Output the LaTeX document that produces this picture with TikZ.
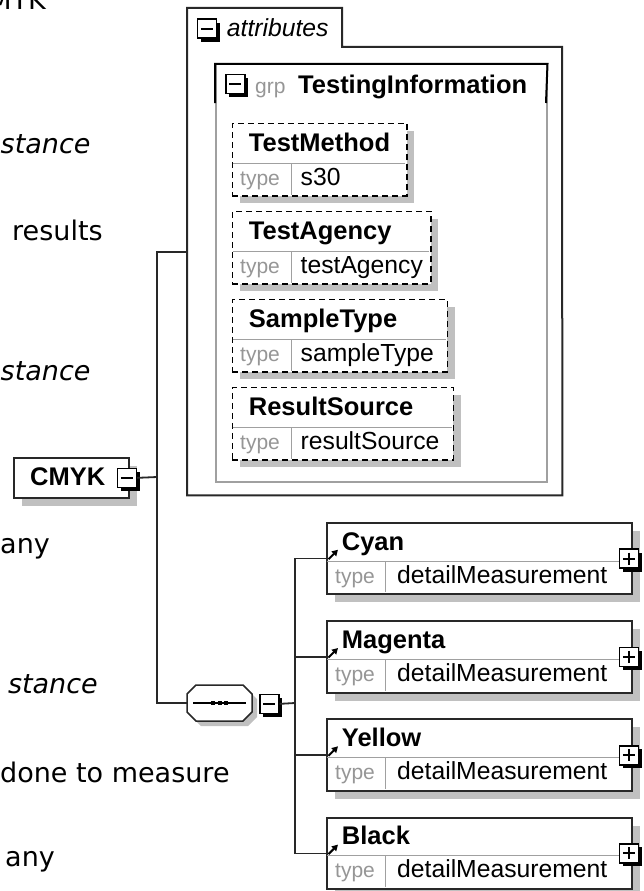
\documentclass[tikz,border=0pt]{standalone}
\usepackage{fontspec}
\setmainfont{Liberation Sans}
\newfontfamily\pagefont{DejaVu Sans}
\usetikzlibrary{arrows.meta,shadows}

\definecolor{shadowgray}{RGB}{192,192,192}
\definecolor{linegray}{RGB}{160,160,160}
\definecolor{typegray}{RGB}{150,150,150}
\definecolor{framegray}{RGB}{40,40,40}

\tikzset{
  elemframe/.style={draw=framegray, line width=2pt, fill=white, inner sep=0, anchor=north west,
    drop shadow={shadow xshift=8pt, shadow yshift=-8pt, fill=shadowgray, opacity=1}},
  attframe/.style={draw=black, line width=1.5pt, dash pattern=on 6pt off 4pt, fill=white, inner sep=0, anchor=north west,
    drop shadow={shadow xshift=7.5pt, shadow yshift=-7.5pt, fill=shadowgray, opacity=1}},
  btnbox/.style={draw=black, line width=1.7pt, fill=white, minimum size=19pt, inner sep=0, anchor=north west,
    drop shadow={shadow xshift=3.5pt, shadow yshift=-3.5pt, fill=black, opacity=1}},
  minusbtn/.style={btnbox, path picture={
    \draw[line width=2pt] ([xshift=3.5pt]path picture bounding box.west) -- ([xshift=-3.5pt]path picture bounding box.east);}},
  plusbtn/.style={btnbox, path picture={
    \draw[line width=2pt] ([xshift=3.5pt]path picture bounding box.west) -- ([xshift=-3.5pt]path picture bounding box.east);
    \draw[line width=2pt] ([yshift=-3.5pt]path picture bounding box.north) -- ([yshift=3.5pt]path picture bounding box.south);}},
  titletext/.style={font=\fontsize{25.5}{30}\selectfont\bfseries, inner sep=0, anchor=base west},
  valtext/.style={font=\fontsize{24.7}{30}\selectfont, inner sep=0, anchor=base west},
  typetext/.style={font=\fontsize{21}{25}\selectfont, text=typegray, inner sep=0, anchor=base west},
  pagetext/.style={font=\pagefont\fontsize{27}{32}\selectfont, inner sep=0},
  link/.style={draw=framegray, line width=1.8pt}
}

\begin{document}
\begin{tikzpicture}[x=1pt, y=-1pt]
    \useasboundingbox (0,0) rectangle (643,891);
    % page text behind the diagram
    \node[pagetext, anchor=base east] (txtA) at (46,10) {MYK};
    \node[pagetext, anchor=base west] (txtB) at (0.5,153) {\itshape stance};
    \node[pagetext, anchor=base west] (txtC) at (12,240) {results};
    \node[pagetext, anchor=base west] (txtD) at (0.5,380) {\itshape stance};
    \node[pagetext, anchor=base west] (txtE) at (0,553) {any};
    \node[pagetext, anchor=base east] (txtF) at (98,693) {\itshape stance};
    \node[pagetext, anchor=base west] (txtG) at (0,782) {done to measure};
    \node[pagetext, anchor=base west] (txtH) at (5,866) {any};

    % CMYK
    \node[elemframe, minimum width=115.3, minimum height=40.6] (cmyk) at (12.7,456.7) {};
    \node[titletext] (cmyklbl) at (30,485) {CMYK};

    % attributes
    \node[inner sep=0, minimum width=375, minimum height=487, anchor=north west] (attrs) at (187,8) {};
    \draw[framegray, line width=2pt] (attrs.south west) -- (attrs.north west) -- (342,8) -- (342,47)
        -- (562,47) -- (attrs.south east) -- cycle;
    \node[minusbtn] (attrsbtn) at (196.5,18.5) {};
    \node[valtext] (attrslbl) at (226.7,36.7) {\itshape attributes};

    \node[draw=linegray, line width=1.5pt, inner sep=0, minimum width=331, minimum height=417, anchor=north west] (grp) at (215,64) {};
    \draw[black, line width=2pt] (215,103) -- (grp.north west) -- (grp.north east) -- (546,103);
    \node[minusbtn] (grpbtn) at (225,73.5) {};
    \node[typetext] (grplbl) at (255,93) {grp};
    \node[titletext] (grptitle) at (298,93) {TestingInformation};

    \foreach \nm/\ty/\w [count=\i from 0] in {TestMethod/s30/174.3, TestAgency/testAgency/198.3,
        SampleType/sampleType/215, ResultSource/resultSource/221}{
      \pgfmathsetmacro\yy{122.7+88*\i}
      \node[attframe, minimum width=\w, minimum height=72.5] (att\i) at (231.7,\yy) {};
      \draw[linegray, line width=1pt] (232.5,\yy+40.5) -- (231+\w,\yy+40.5) (291.7,\yy+40.5) -- (291.7,\yy+72);
      \node[titletext] (attname\i) at (248.7,\yy+29) {\nm};
      \node[typetext] (atttype\i) at (240,\yy+62.5) {type};
      \node[valtext] (attval\i) at (300.5,\yy+62.5) {\ty};
    }

    % sequence
    \fill[shadowgray] (201,690) -- (248,690) -- (257,699) -- (257,717) -- (248,726) -- (201,726) -- (192,717) -- (192,699) -- cycle;
    \node[inner sep=0, minimum width=65, minimum height=36, anchor=north west] (seq) at (187,685) {};
    \draw[framegray, fill=white, line width=1.5pt] (196,685) -- (243,685) -- (252,694) -- (252,712)
        -- (243,721) -- (196,721) -- (187,712) -- (187,694) -- cycle;
    \draw[line width=1.5pt] (193,703) -- (246,703);
    \foreach \dx in {213,219.5,226} \fill (\dx-2,701) rectangle ++(4,4);

    % elements
    \foreach \nm/\id [count=\i from 0] in {Cyan/elcyan, Magenta/elmagenta, Yellow/elyellow, Black/elblack}{
      \pgfmathsetmacro\yy{521.7+98.3*\i}
      \node[elemframe, minimum width=305, minimum height=71.7] (\id) at (325.7,\yy) {};
      \draw[linegray, line width=1pt] (326.7,\yy+39.3) -- (629.7,\yy+39.3) (385.7,\yy+39.3) -- (385.7,\yy+70.7);
      \draw[line width=2pt, -{Triangle[length=6pt, width=6.5pt]}] (328.5,\yy+37.5) -- (338,\yy+28);
      \node[titletext] (\id-name) at (341.7,\yy+28.3) {\nm};
      \node[typetext] (\id-type) at (335,\yy+61.3) {type};
      \node[valtext] (\id-val) at (397,\yy+61.3) {detailMeasurement};
      \node[plusbtn] (\id-btn) at (618.5,\yy+26.5) {};
    }

    % connectors
    \coordinate (cmykjoin) at (157,477);
    \coordinate (seqjoin) at (295,703);
    \draw[link] (cmykjoin) |- (attrs.west);
    \draw[link] (cmykjoin) |- (seq.west);
    \foreach \id in {elcyan, elmagenta, elyellow, elblack}
      \draw[link] (seqjoin) |- (\id.west);
    \node[minusbtn] (cmykbtn) at (116.5,467.5) {};
    \node[minusbtn] (seqbtn) at (259,693.5) {};
    \draw[link] (cmykbtn.east) -- (cmykjoin);
    \draw[link] (seqbtn.east) -- (seqjoin);
\end{tikzpicture}
\end{document}
